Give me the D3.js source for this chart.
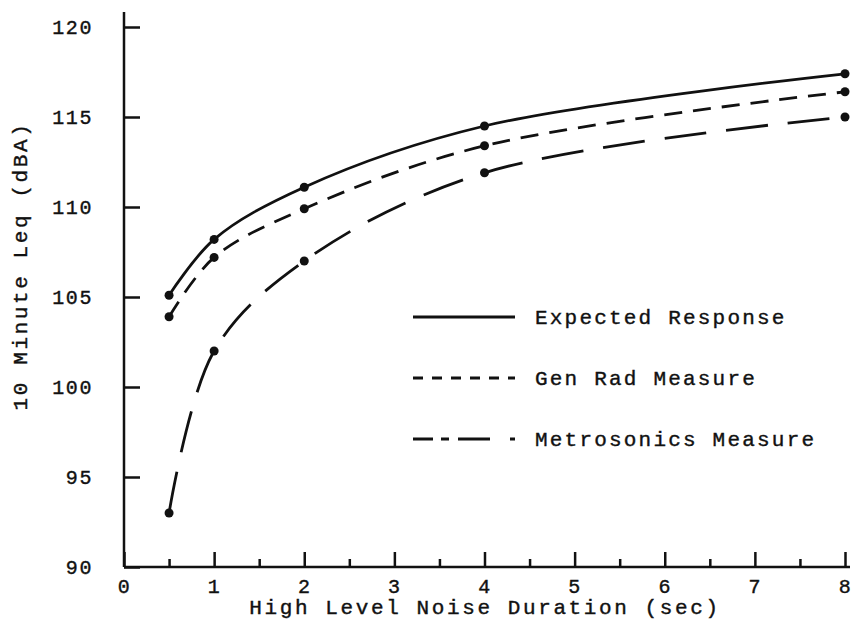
<!DOCTYPE html>
<html>
<head>
<meta charset="utf-8">
<script src="https://cdn.jsdelivr.net/npm/d3@7"></script>
<style>
  body { margin: 0; background: #fff; }
  text { font-family: "Courier New", "Liberation Mono", monospace; fill: #111; }
</style>
</head>
<body>
<div id="chart"></div>
<script>
// Durations (sec)
const durations = [0.5, 1, 2, 4, 8];

// 10 minute Leq values (dBA) for each curve
const expectedResponse = [105.1, 108.2, 111.1, 114.5, 117.4];
const genRadMeasure = [103.9, 107.2, 109.9, 113.4, 116.4];
const metrosonicsMeasure = [93.0, 102.0, 107.0, 111.9, 115.0];

const seriesNames = ["Expected Response", "Gen Rad Measure", "Metrosonics Measure"];

// Tick labels
const xTicks = [0, 1, 2, 3, 4, 5, 6, 7, 8];
const xMinorTicks = [0.5, 1.5, 2.5, 3.5, 4.5, 5.5, 6.5, 7.5];
const yTicks = [90, 95, 100, 105, 110, 115, 120];

const width = 858;
const height = 632;

const svg = d3.select("#chart")
    .append("svg")
    .attr("width", width)
    .attr("height", height);

const x = d3.scaleLinear().domain([0, 8]).range([124, 845]);
const y = d3.scaleLinear().domain([90, 120]).range([567, 27]);

// Axes - ticks point inward like the hand drawn original
const xAxis = svg.append("g")
    .attr("transform", `translate(0,${y(90)})`)
    .call(d3.axisBottom(x).tickValues(xTicks).tickSizeInner(-15).tickSizeOuter(0).tickPadding(12));

svg.append("g")
    .attr("transform", `translate(0,${y(90)})`)
    .call(d3.axisBottom(x).tickValues(xMinorTicks).tickSizeInner(-8).tickSizeOuter(0).tickFormat(""))
    .call(g => g.select(".domain").remove());

const yAxis = svg.append("g")
    .attr("transform", `translate(${x(0)},0)`)
    .call(d3.axisLeft(y).tickValues(yTicks).tickSizeInner(-16).tickSizeOuter(0).tickPadding(31));

// extend the axis lines a little past the last tick
xAxis.select(".domain").attr("d", `M${x(0)},0H${x(8) + 5}`);
yAxis.select(".domain").attr("d", `M0,${y(90)}V${y(120) - 15}`);

svg.selectAll(".domain, .tick line")
    .attr("stroke", "#111")
    .attr("stroke-width", 2.5);

svg.selectAll(".tick text")
    .style("font-size", "20px")
    .style("letter-spacing", "1.6px")
    .attr("fill", "#111")
    .attr("stroke", "#111")
    .attr("stroke-width", 0.4);

// Axis titles
svg.append("text")
    .attr("x", 485)
    .attr("y", 614)
    .attr("text-anchor", "middle")
    .style("font-size", "21px")
    .style("letter-spacing", "2.6px")
    .attr("stroke", "#111")
    .attr("stroke-width", 0.4)
    .text("High Level Noise Duration (sec)");

svg.append("text")
    .attr("transform", "translate(27,266) rotate(-90)")
    .attr("text-anchor", "middle")
    .style("font-size", "21px")
    .style("letter-spacing", "2.6px")
    .attr("stroke", "#111")
    .attr("stroke-width", 0.4)
    .text("10 Minute Leq (dBA)");

// Curves
const allSeries = [expectedResponse, genRadMeasure, metrosonicsMeasure];
const dashes = [null, "18,11", "42,20"];
const legendDashes = [null, "10,9", "20,8,8,9,32"];

const line = d3.line()
    .x(d => x(d[0]))
    .y(d => y(d[1]))
    .curve(d3.curveCatmullRom.alpha(0.5));

allSeries.forEach((vals, i) => {
    const pts = durations.map((d, j) => [d, vals[j]]);

    svg.append("path")
        .datum(pts)
        .attr("d", line)
        .attr("fill", "none")
        .attr("stroke", "#111")
        .attr("stroke-width", 2.8)
        .attr("stroke-dasharray", dashes[i]);

    svg.selectAll(null)
        .data(pts)
        .enter().append("circle")
        .attr("cx", d => x(d[0]))
        .attr("cy", d => y(d[1]))
        .attr("r", 4.5)
        .attr("fill", "#111");
});

// Legend
const legend = svg.append("g");
seriesNames.forEach((name, i) => {
    const ly = 317 + i * 61;
    legend.append("line")
        .attr("x1", 413)
        .attr("x2", 515)
        .attr("y1", ly)
        .attr("y2", ly)
        .attr("stroke", "#111")
        .attr("stroke-width", 2.8)
        .attr("stroke-dasharray", legendDashes[i]);
    legend.append("text")
        .attr("x", 535)
        .attr("y", ly + 7)
        .style("font-size", "21px")
        .style("letter-spacing", "2.2px")
        .attr("stroke", "#111")
        .attr("stroke-width", 0.4)
        .text(name);
});
</script>
</body>
</html>
